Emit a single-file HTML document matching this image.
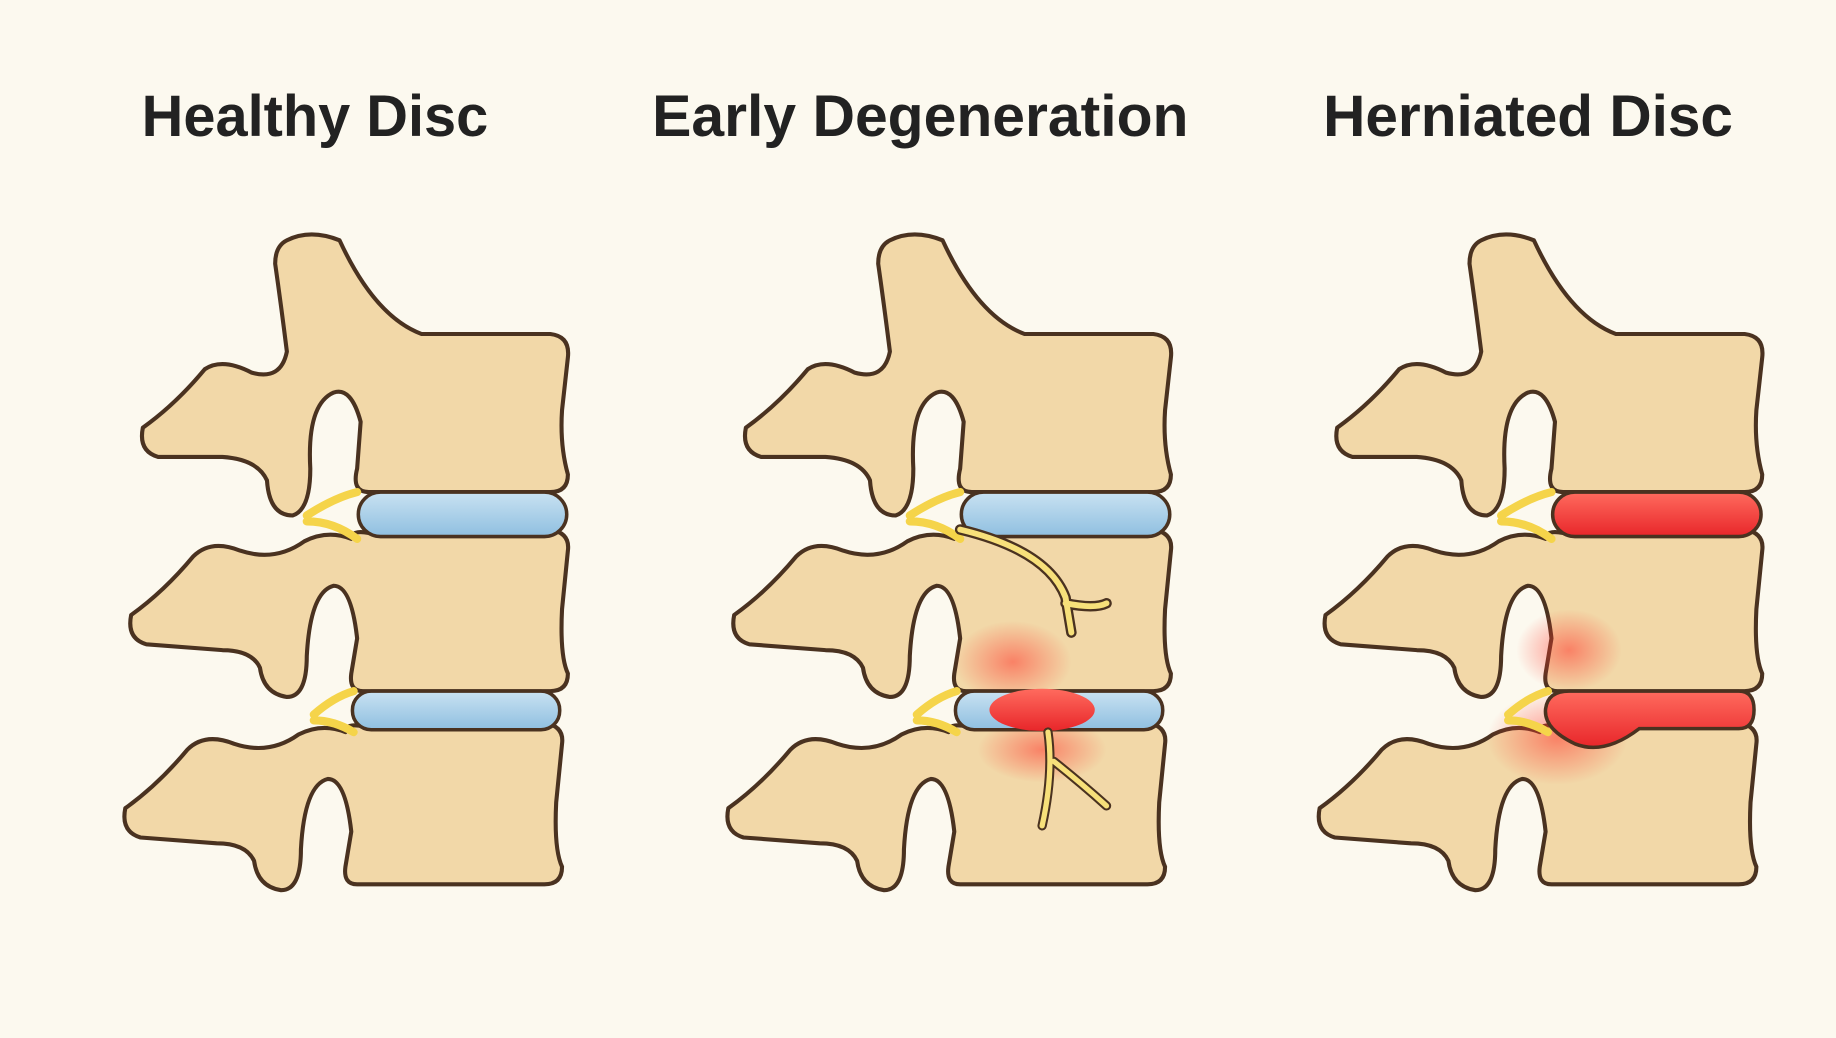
<!DOCTYPE html>
<html><head><meta charset="utf-8"><style>
html,body{margin:0;padding:0;background:#fcf9ef;}
svg{display:block}
</style></head><body>
<svg width="1836" height="1038" viewBox="0 0 1568 886" xmlns="http://www.w3.org/2000/svg">
<defs>
<radialGradient id="glow"><stop offset="0" stop-color="#ff3b30" stop-opacity="0.55"/><stop offset="1" stop-color="#ff3b30" stop-opacity="0"/></radialGradient>
<linearGradient id="blue" x1="0" y1="0" x2="0" y2="1"><stop offset="0" stop-color="#c9e2f2"/><stop offset="1" stop-color="#8fbfe0"/></linearGradient>
<linearGradient id="red" x1="0" y1="0" x2="0" y2="1"><stop offset="0" stop-color="#ff6b5e"/><stop offset="1" stop-color="#e8262a"/></linearGradient>
<g id="top">
<path d="M245,205 Q265,195 290,205 Q320,270 360,285 L470,285 Q487,287 485,305 L480,350 Q478,380 485,405 Q485,420 470,420 L315,420 Q300,420 305,400 L308,360 Q300,330 285,335 Q262,345 265,400 Q265,435 250,440 Q230,440 228,410 Q220,392 190,390 L135,390 Q118,385 122,365 Q150,345 175,315 Q190,305 215,318 Q240,325 245,300 Q240,260 235,225 Q235,210 245,205 Z" fill="#f2d8a8" stroke="#4a3220" stroke-width="3.5" stroke-linejoin="round"/>
</g>
<g id="mid">
<path d="M300,460 Q300,452 315,455 L470,452 Q487,455 485,470 L480,520 Q478,560 485,575 Q485,590 470,590 L310,590 Q298,590 300,575 L305,545 Q300,500 285,500 Q265,505 262,560 Q262,595 245,595 Q225,592 222,570 Q215,555 190,555 L125,550 Q108,545 112,525 Q140,505 165,475 Q180,460 205,470 Q235,480 260,462 Q280,452 300,460 Z" fill="#f2d8a8" stroke="#4a3220" stroke-width="3.5" stroke-linejoin="round"/>
</g>
<g id="nerve">
<path d="M262,440 Q285,425 305,420 M262,445 Q285,445 305,460 M268,610 Q285,595 302,590 M268,615 Q285,615 302,625" stroke="#f5d44a" stroke-width="7" fill="none" stroke-linecap="round"/>
</g>
</defs>
<rect width="1568" height="886" fill="#fcf9ef"/>
<g font-family="Liberation Sans, sans-serif" font-size="50" font-weight="bold" fill="#222" text-anchor="middle">
<text x="269" y="116" textLength="296" lengthAdjust="spacingAndGlyphs">Healthy Disc</text>
<text x="786" y="116" textLength="458" lengthAdjust="spacingAndGlyphs">Early Degeneration</text>
<text x="1305" y="116" textLength="350" lengthAdjust="spacingAndGlyphs">Herniated Disc</text>
</g>

<!-- Panel 1 -->
<g>
<use href="#top"/><use href="#mid"/><use href="#mid" transform="translate(-5,165)"/>
<use href="#nerve"/>
<rect x="306" y="420" width="178" height="38" rx="19" fill="url(#blue)" stroke="#4a3220" stroke-width="3"/>
<rect x="301" y="590" width="177" height="33" rx="16" fill="url(#blue)" stroke="#4a3220" stroke-width="3"/>
</g>

<!-- Panel 2 -->
<g transform="translate(515,0)">
<use href="#top"/><use href="#mid"/><use href="#mid" transform="translate(-5,165)"/>
<use href="#nerve"/>
<rect x="306" y="420" width="178" height="38" rx="19" fill="url(#blue)" stroke="#4a3220" stroke-width="3"/>
<ellipse cx="350" cy="565" rx="50" ry="35" fill="url(#glow)"/>
<ellipse cx="375" cy="640" rx="55" ry="28" fill="url(#glow)"/>
<rect x="301" y="590" width="177" height="33" rx="16" fill="url(#blue)" stroke="#4a3220" stroke-width="3"/>
<ellipse cx="375" cy="606" rx="45" ry="18" fill="url(#red)"/>
<path d="M305,452 Q380,470 395,510 L400,540 M395,515 Q420,520 430,515" stroke="#4a3220" stroke-width="9" fill="none" stroke-linecap="round"/>
<path d="M305,452 Q380,470 395,510 L400,540 M395,515 Q420,520 430,515" stroke="#f7e07a" stroke-width="5" fill="none" stroke-linecap="round"/>
<path d="M380,625 Q385,660 375,705 M385,650 Q410,670 430,688" stroke="#4a3220" stroke-width="8" fill="none" stroke-linecap="round"/>
<path d="M380,625 Q385,660 375,705 M385,650 Q410,670 430,688" stroke="#f7e07a" stroke-width="4.5" fill="none" stroke-linecap="round"/>
</g>

<!-- Panel 3 -->
<g transform="translate(1020,0)">
<use href="#top"/><use href="#mid"/><use href="#mid" transform="translate(-5,165)"/>
<ellipse cx="320" cy="555" rx="45" ry="35" fill="url(#glow)"/>
<ellipse cx="310" cy="630" rx="60" ry="40" fill="url(#glow)"/>
<use href="#nerve"/>
<rect x="306" y="420" width="178" height="38" rx="19" fill="url(#red)" stroke="#4a3220" stroke-width="3"/>
<path d="M320,590 L465,590 Q478,590 478,606 Q478,622 465,622 L380,622 Q350,645 325,635 Q298,622 300,605 Q302,590 320,590 Z" fill="url(#red)" stroke="#4a3220" stroke-width="3"/>
</g>
</svg>
</body></html>
